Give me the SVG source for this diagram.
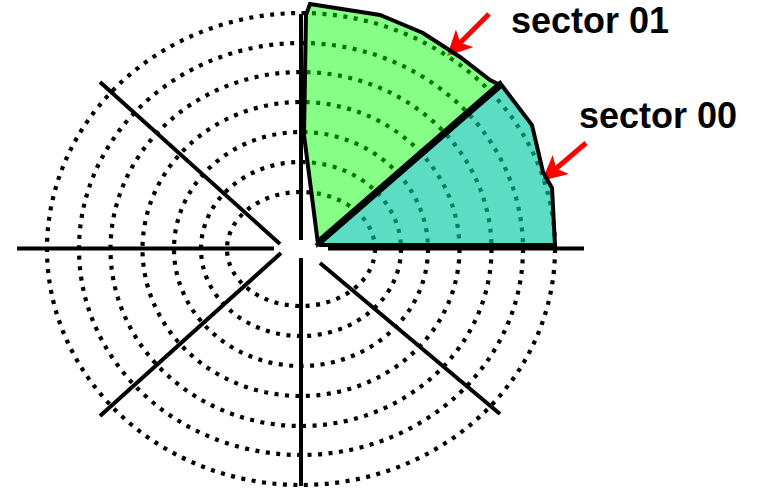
<svg xmlns="http://www.w3.org/2000/svg" width="761" height="491" viewBox="0 0 761 491">
<defs>
<style>
.ring{fill:none;stroke:#000;stroke-width:4.2;stroke-dasharray:4 6.5}
.rad{stroke:#000;stroke-width:4;stroke-linecap:butt}
.lbl{font-family:"Liberation Sans",Arial,sans-serif;font-weight:bold;font-size:36px;fill:#000}
.arr{stroke:#ff0000;stroke-width:5;fill:none}
</style>
<marker id="ah" viewBox="0 0 12 12" refX="10" refY="6" markerWidth="5" markerHeight="5" orient="auto" markerUnits="strokeWidth">
<path d="M0,0 L12,6 L0,12 L3,6 Z" fill="#ff0000"/>
</marker>
</defs>
<rect width="761" height="491" fill="#fff"/>
<g id="rings">
<ellipse class="ring" cx="301" cy="249" rx="74" ry="57"/>
<ellipse class="ring" cx="301" cy="249" rx="100" ry="87"/>
<ellipse class="ring" cx="301" cy="249" rx="127" ry="117"/>
<ellipse class="ring" cx="301" cy="249" rx="158.5" ry="147"/>
<ellipse class="ring" cx="301" cy="249" rx="190.5" ry="177"/>
<ellipse class="ring" cx="301" cy="249" rx="222" ry="206"/>
<ellipse class="ring" cx="301" cy="249" rx="254" ry="236"/>
</g>
<g id="connectors">
<line class="rad" x1="301" y1="14" x2="301" y2="240"/>
<line class="rad" x1="301" y1="258" x2="301" y2="486"/>
<line class="rad" x1="17" y1="248.5" x2="274" y2="248.5"/>
<line class="rad" x1="328" y1="248.5" x2="584" y2="248.5"/>
<line class="rad" x1="100" y1="82" x2="280" y2="244"/>
<line class="rad" x1="281" y1="253" x2="100" y2="416"/>
<line class="rad" x1="320" y1="263" x2="500" y2="414"/>
<line class="arr" x1="489" y1="14" x2="450" y2="53" marker-end="url(#ah)"/>
<line class="arr" x1="586" y1="143" x2="545" y2="178" marker-end="url(#ah)"/>
</g>
<g id="sector01">
<polygon points="318,244 304,135 306,15 310,4 380,15 423,33 460,57 490,80 500,85" fill="#00ff00" fill-opacity="0.47" stroke="#000" stroke-width="4" stroke-linejoin="miter"/>
<text class="lbl" x="511" y="33">sector 01</text>
</g>
<g id="sector00">
<polygon points="318,244 500,83 532,125 543,172 552,188 555,245 320,245" fill="#00c8a0" fill-opacity="0.64" stroke="#000" stroke-width="4"/>
<line x1="318" y1="243" x2="500" y2="85" stroke="#000" stroke-width="7"/>
<text class="lbl" x="579" y="128">sector 00</text>
</g>
</svg>
